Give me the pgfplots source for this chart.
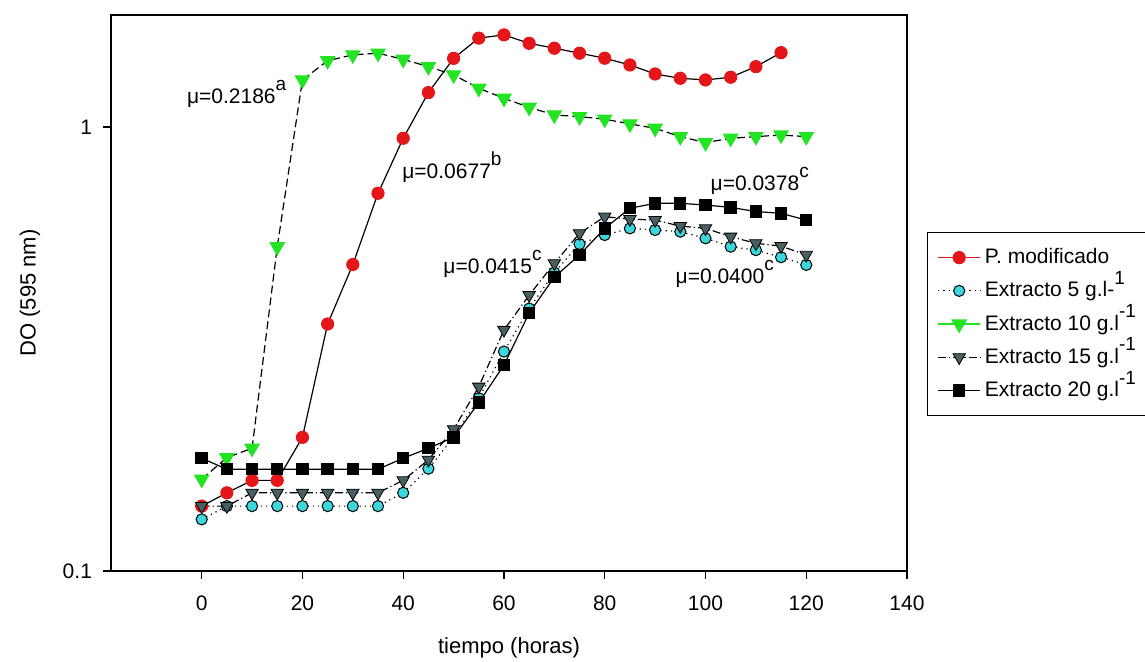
\documentclass[border=0pt]{standalone}
\usepackage{fontspec}
\setmainfont{Liberation Sans}
\usepackage{pgfplots}
\pgfplotsset{compat=1.18}
\definecolor{mred}{RGB}{228,22,26}
\definecolor{mcyan}{RGB}{60,215,222}
\definecolor{mgreen}{RGB}{35,228,35}
\definecolor{mgrey}{RGB}{72,96,98}
\newcommand\sups[1]{\smash{\raisebox{0.6em}{\fontsize{9.5}{10}\selectfont #1}}}
\pgfplotstableread{
x red
0 0.140
5 0.150
10 0.160
15 0.160
20 0.200
25 0.360
30 0.490
35 0.709
40 0.943
45 1.195
50 1.427
55 1.585
60 1.612
65 1.543
70 1.504
75 1.466
80 1.428
85 1.379
90 1.316
95 1.287
100 1.276
105 1.294
110 1.367
115 1.470
}\tred
\pgfplotstableread{
x cyan green grey black
0 0.1307 0.161 0.140 0.1795
5 0.140 0.180 0.140 0.1695
10 0.140 0.189 0.150 0.1695
15 0.140 0.537 0.150 0.1695
20 0.140 1.276 0.150 0.1695
25 0.140 1.410 0.150 0.1695
30 0.140 1.453 0.150 0.1695
35 0.140 1.466 0.150 0.1695
40 0.150 1.420 0.160 0.1795
45 0.170 1.367 0.178 0.189
50 0.200 1.310 0.2085 0.200
55 0.245 1.222 0.260 0.2394
60 0.312 1.160 0.349 0.291
65 0.390 1.107 0.418 0.381
70 0.470 1.064 0.493 0.459
75 0.545 1.055 0.576 0.515
80 0.571 1.041 0.628 0.591
85 0.591 1.016 0.620 0.656
90 0.586 0.993 0.617 0.673
95 0.581 0.951 0.598 0.673
100 0.5615 0.922 0.591 0.667
105 0.5375 0.943 0.566 0.659
110 0.528 0.951 0.547 0.645
115 0.509 0.959 0.539 0.639
120 0.489 0.951 0.515 0.617
}\tall
\begin{document}
\begin{tikzpicture}
\useasboundingbox (0pt,0pt) rectangle (572.5pt,331pt);
\begin{axis}[
  at={(55.5pt,45.5pt)}, anchor=south west,
  width=398pt, height=278pt, scale only axis,
  ymode=log, xmin=-18, xmax=140, ymin=0.1, ymax=1.787,
  xtick={0,20,40,60,80,100,120,140},
  ytick={0.1,1}, yticklabels={0.1,1},
  yminorticks=false,
  xtick pos=left, ytick pos=left,
  tick align=outside, major tick length=4pt,
  axis line style={line width=0.7pt},
  every tick/.style={black, line width=0.6pt},
  /pgf/number format/assume math mode=true,
  tick label style={font=\fontsize{10.5}{12}\selectfont},
  xticklabel style={yshift=-5pt},
  yticklabel style={xshift=-2pt},
  label style={font=\fontsize{11}{13}\selectfont},
  xlabel={tiempo (horas)},
  ylabel={DO (595 nm)},
  xlabel style={at={([yshift=-38.5pt]axis description cs:0.5,0)}, anchor=center},
  ylabel style={at={([xshift=-40.5pt]axis description cs:0,0.5)}, anchor=center},
  legend style={at={(1.025,0.61)}, anchor=north west, draw=black, line width=0.7pt,
    font=\fontsize{10.5}{12}\selectfont, inner xsep=5pt, inner ysep=6pt, row sep=3.5pt,
    cells={anchor=west}},
  legend cell align=left,
  legend image code/.code={\draw[mark repeat=2,mark phase=2,#1] plot coordinates {(0pt,0pt)(10.5pt,0pt)(21pt,0pt)};},
  clip=false,
]
\addlegendimage{color=mred, line width=0.6pt, mark=*, mark size=3pt, mark options={solid, fill=mred, draw=mred}}
\addlegendentry{P. modificado}
\addlegendimage{black, line width=0.6pt, dash pattern=on 0.6pt off 2pt, mark=*, mark size=2.8pt, mark options={solid, fill=mcyan, draw=black, line width=0.5pt}}
\addlegendentry{Extracto 5 g.l-\sups{1}}
\addlegendimage{color=mgreen, line width=0.6pt, mark=triangle*, mark size=4pt, mark options={solid, rotate=180, fill=mgreen, draw=mgreen}}
\addlegendentry{Extracto 10 g.l\sups{-1}}
\addlegendimage{black, line width=0.6pt, dash pattern=on 4pt off 1.5pt on 0.6pt off 1.5pt, mark=triangle*, mark size=3.6pt, mark options={solid, rotate=180, fill=mgrey, draw=black, line width=0.4pt}}
\addlegendentry{Extracto 15 g.l\sups{-1}}
\addlegendimage{black, line width=0.6pt, mark=square*, mark size=2.8pt, mark options={solid, fill=black}}
\addlegendentry{Extracto 20 g.l\sups{-1}}

\addplot[forget plot, black, line width=0.6pt, mark=*, mark size=3pt, mark options={solid, fill=mred, draw=mred}] table[x=x, y=red] {\tred};
\addplot[forget plot, black, line width=0.6pt, dash pattern=on 0.6pt off 2pt, mark=*, mark size=2.8pt, mark options={solid, fill=mcyan, draw=black, line width=0.5pt}] table[x=x, y=cyan] {\tall};
\addplot[forget plot, black, line width=0.6pt, dash pattern=on 4pt off 2pt, mark=triangle*, mark size=4pt, mark options={solid, rotate=180, fill=mgreen, draw=mgreen}] table[x=x, y=green] {\tall};
\addplot[forget plot, black, line width=0.6pt, dash pattern=on 4pt off 1.5pt on 0.6pt off 1.5pt, mark=triangle*, mark size=3.6pt, mark options={solid, rotate=180, fill=mgrey, draw=black, line width=0.4pt}] table[x=x, y=grey] {\tall};
\addplot[forget plot, black, line width=0.6pt, mark=square*, mark size=2.8pt, mark options={solid, fill=black}] table[x=x, y=black] {\tall};

\begin{scope}[every node/.style={anchor=base west, inner sep=0pt, font=\fontsize{10.5}{12}\selectfont}]
\node at (axis cs:-2.98,1.132) {μ=0.2186\sups{a}};
\node at (axis cs:39.75,0.766) {μ=0.0677\sups{b}};
\node at (axis cs:100.95,0.721) {μ=0.0378\sups{c}};
\node at (axis cs:47.9,0.468) {μ=0.0415\sups{c}};
\node at (axis cs:94.0,0.4446) {μ=0.0400\sups{c}};
\end{scope}
\end{axis}
\end{tikzpicture}
\end{document}
